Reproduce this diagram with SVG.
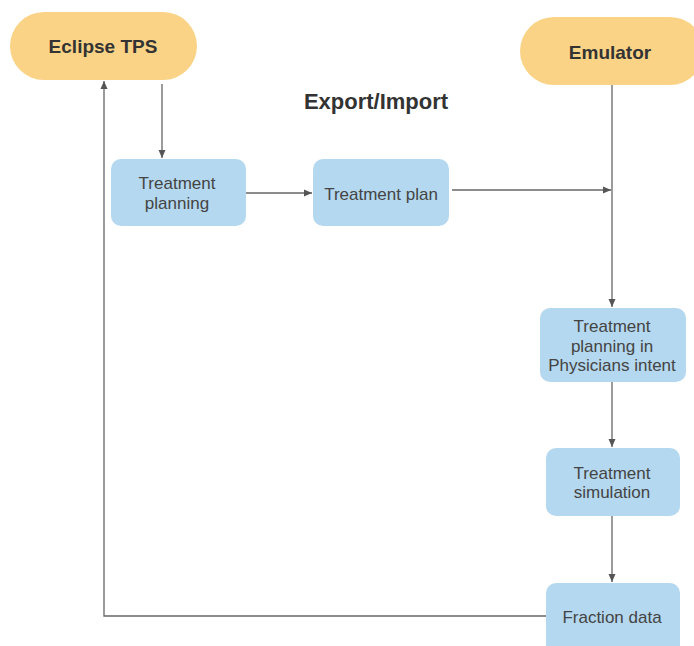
<svg xmlns="http://www.w3.org/2000/svg" width="694" height="646" viewBox="0 0 694 646">
<style>
.term{fill:#FAD386;}
.proc{fill:#B4D8EF;}
.tb{font-family:"Liberation Sans",Arial,sans-serif;font-weight:bold;font-size:19px;fill:#333;text-anchor:middle;}
.t{font-family:"Liberation Sans",Arial,sans-serif;font-size:17px;fill:#444;text-anchor:middle;}
.c{stroke:#666;stroke-width:1.3;fill:none;}
</style>
<defs>
<marker id="a" markerWidth="10" markerHeight="10" refX="9" refY="5" orient="auto" markerUnits="userSpaceOnUse">
<path d="M1,1.5 L9,5 L1,8.5 Z" fill="#555"/>
</marker>
</defs>
<rect width="694" height="646" fill="#fff"/>
<g id="connectors">
<line class="c" x1="162" y1="84" x2="162" y2="158" marker-end="url(#a)"/>
<line class="c" x1="246" y1="193" x2="312" y2="193" marker-end="url(#a)"/>
<line class="c" x1="452" y1="190" x2="611" y2="190" marker-end="url(#a)"/>
<line class="c" x1="612" y1="85" x2="612" y2="307" marker-end="url(#a)"/>
<line class="c" x1="612" y1="382" x2="612" y2="447" marker-end="url(#a)"/>
<line class="c" x1="612" y1="516" x2="612" y2="582" marker-end="url(#a)"/>
<polyline class="c" points="546,616 104,616 104,81" marker-end="url(#a)"/>
</g>
<g id="eclipse">
<rect class="term" x="10" y="12" width="187" height="68" rx="34"/>
<text class="tb" x="103" y="53">Eclipse TPS</text>
</g>
<g id="emulator">
<rect class="term" x="520" y="17" width="184" height="68" rx="34"/>
<text class="tb" x="610" y="59">Emulator</text>
</g>
<g id="export-label">
<text class="tb" x="376" y="109" style="font-size:22px">Export/Import</text>
</g>
<g id="treatment-planning">
<rect class="proc" x="111" y="159" width="135" height="67" rx="10"/>
<text class="t" x="177" y="189">Treatment</text>
<text class="t" x="177" y="209">planning</text>
</g>
<g id="treatment-plan">
<rect class="proc" x="313" y="159" width="136" height="67" rx="10"/>
<text class="t" x="381" y="200">Treatment plan</text>
</g>
<g id="physicians">
<rect class="proc" x="540" y="308" width="146" height="74" rx="10"/>
<text class="t" x="612" y="332">Treatment</text>
<text class="t" x="612" y="352">planning in</text>
<text class="t" x="612" y="371">Physicians intent</text>
</g>
<g id="simulation">
<rect class="proc" x="546" y="448" width="134" height="68" rx="10"/>
<text class="t" x="612" y="479">Treatment</text>
<text class="t" x="612" y="498">simulation</text>
</g>
<g id="fraction">
<rect class="proc" x="546" y="583" width="134" height="72" rx="10"/>
<text class="t" x="612" y="623">Fraction data</text>
</g>
</svg>
